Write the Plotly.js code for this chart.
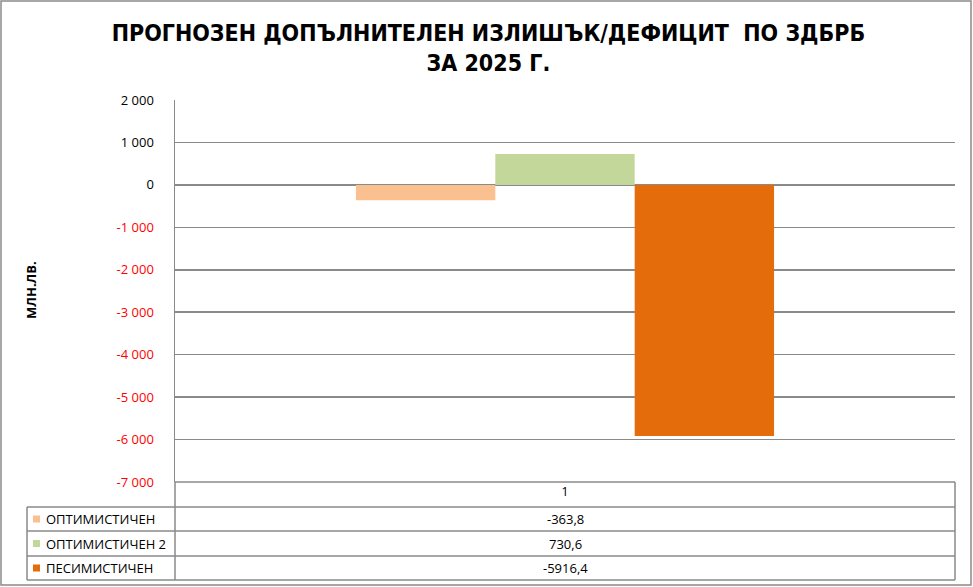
<!DOCTYPE html>
<html>
<head>
<meta charset="utf-8">
<script src="https://cdn.plot.ly/plotly-3.0.1.min.js"></script>
<style>
  html, body { margin: 0; padding: 0; background: #fff; }
  #chart { width: 973px; height: 587px; }
</style>
</head>
<body>
<div id="chart"></div>
<script>
const categories = ['1'];
const seriesNames = ['ОПТИМИСТИЧЕН', 'ОПТИМИСТИЧЕН 2', 'ПЕСИМИСТИЧЕН'];
const seriesValues = [-363.8, 730.6, -5916.4];
const seriesColors = ['#FAC090', '#C4D79B', '#E46C0A'];
const yTicks = [2000, 1000, 0, -1000, -2000, -3000, -4000, -5000, -6000, -7000];

const GRID = '#8a8a8a';
const LW = 1.5;
const FONT = 'Open Sans, Liberation Sans, sans-serif';

// plot area in pixels
const PL = 175, PR = 955, PT = 100, PB = 482;
const px = x => (x - PL) / (PR - PL);
const py = y => (PB - y) / (PB - PT);

function fmtTick(v) {
  const s = Math.abs(v).toString().replace(/\B(?=(\d{3})+(?!\d))/g, ' ');
  return v < 0 ? '<span style="color:#FF0000">-' + s + '</span>' : s;
}
const fmtVal = v => v.toFixed(1).replace('.', ',');

const traces = seriesNames.map((name, i) => ({
  type: 'bar',
  name: name,
  x: categories,
  y: [seriesValues[i]],
  marker: { color: seriesColors[i], line: { width: 0 } },
  hoverinfo: 'skip',
}));

// data table rows under the plot
const rowMid = [519, 543.5, 568];

const line = (x0, y0, x1, y1) => ({
  type: 'line', xref: 'paper', yref: 'paper',
  x0: px(x0), x1: px(x1), y0: py(y0), y1: py(y1),
  line: { color: GRID, width: LW },
});

const shapes = [
  line(175, 482, 955, 482),
  line(27, 507, 955, 507),
  line(27, 531, 955, 531),
  line(27, 556, 955, 556),
  line(27, 580, 955, 580),
  line(27, 507, 27, 580),
  line(175, 482, 175, 580),
  line(955, 482, 955, 580),
  // outer chart border
  {
    type: 'rect', xref: 'paper', yref: 'paper',
    x0: px(1), x1: px(971), y0: py(1), y1: py(585),
    line: { color: GRID, width: 1.5 },
  },
];

const annotations = [{
  xref: 'paper', yref: 'paper',
  x: px(31), y: py(290), xanchor: 'center', yanchor: 'middle',
  text: '<b>МЛН.ЛВ.</b>', textangle: -90, showarrow: false,
  font: { family: FONT, size: 13, color: '#000' },
}];

seriesNames.forEach((name, i) => {
  shapes.push({
    type: 'rect', xref: 'paper', yref: 'paper',
    x0: px(33), x1: px(40), y0: py(rowMid[i] - 3.5), y1: py(rowMid[i] + 3.5),
    fillcolor: seriesColors[i], line: { width: 0 },
  });
  annotations.push({
    xref: 'paper', yref: 'paper', x: px(44), y: py(rowMid[i]),
    xanchor: 'left', yanchor: 'middle', showarrow: false,
    text: name, font: { family: FONT, size: 13, color: '#000' },
  });
  annotations.push({
    xref: 'paper', yref: 'paper', x: 0.5, y: py(rowMid[i]),
    xanchor: 'center', yanchor: 'middle', showarrow: false,
    text: fmtVal(seriesValues[i]), font: { family: FONT, size: 13, color: '#000' },
  });
});

const layout = {
  width: 973, height: 587,
  margin: { l: PL, r: 973 - PR, t: PT, b: 587 - PB, pad: 0 },
  paper_bgcolor: '#fff', plot_bgcolor: '#fff',
  showlegend: false,
  barmode: 'group', bargap: 0.464, bargroupgap: 0,
  title: {
    text: '<b>ПРОГНОЗЕН ДОПЪЛНИТЕЛЕН ИЗЛИШЪК/ДЕФИЦИТ \u00A0ПО ЗДБРБ<br>ЗА 2025 Г.</b>',
    x: 0.502, xanchor: 'center', xref: 'container',
    y: 1 - 41 / 587, yanchor: 'middle', yref: 'container',
    font: { family: 'DejaVu Sans Condensed, Liberation Sans Narrow, sans-serif', size: 23, color: '#000', lineposition: 'none' },
  },
  xaxis: {
    type: 'category',
    showgrid: false, zeroline: false, showline: false,
    ticks: '', tickfont: { family: FONT, size: 13, color: '#000' },
    fixedrange: true,
  },
  yaxis: {
    range: [-7000, 2000],
    tickvals: yTicks, ticktext: yTicks.map(fmtTick),
    tickfont: { family: FONT, size: 13, color: '#000' },
    ticklabelstandoff: 17,
    showgrid: true, gridcolor: GRID, gridwidth: LW,
    zeroline: true, zerolinecolor: GRID, zerolinewidth: LW,
    showline: true, linecolor: GRID, linewidth: LW,
    ticks: '', fixedrange: true,
  },
  shapes: shapes,
  annotations: annotations,
};

Plotly.newPlot('chart', traces, layout, { displayModeBar: false, staticPlot: true });
</script>
</body>
</html>
